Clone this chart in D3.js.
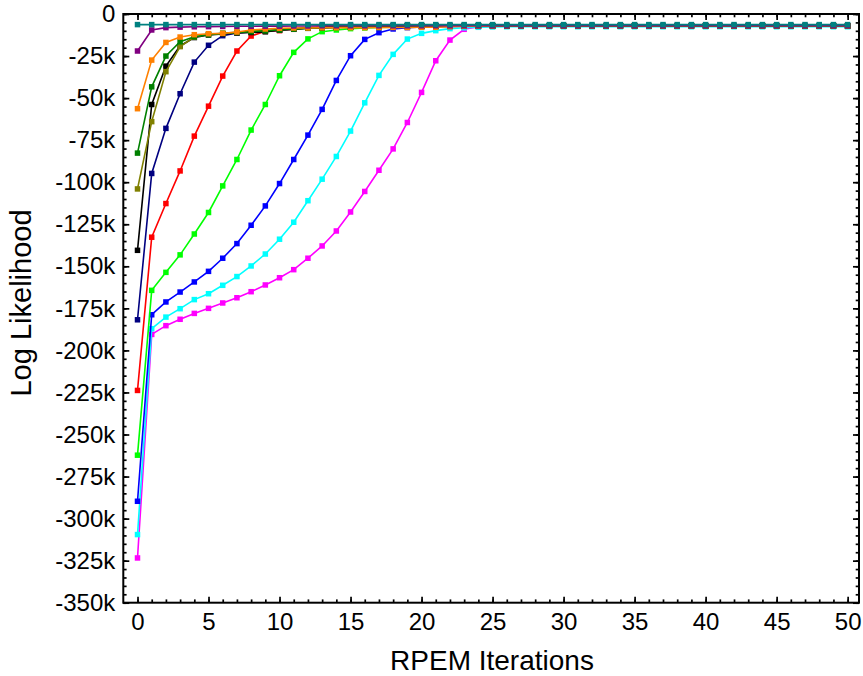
<!DOCTYPE html>
<html>
<head>
<meta charset="utf-8">
<script src="https://cdn.jsdelivr.net/npm/d3@7"></script>
<style>
  body { margin: 0; background: #fff; }
  text { font-family: "Liberation Sans", Arial, sans-serif; }
</style>
</head>
<body>
<div id="chart"></div>
<script>
// log likelihood per RPEM iteration, values in thousands (k)
const iterations = d3.range(0, 51);

const magenta = [-323.4, -190.5, -185.3, -181.5, -178.0, -175.0, -171.8, -168.7, -165.1, -161.1, -156.8, -152.0, -145.2, -137.9, -129.0, -117.7, -105.5, -92.9, -80.2, -64.5, -46.6, -27.8, -15.5, -9.1, -7.5, -7.2, -7.1, -7.0, -7.0, -7.0, -7.0, -7.0, -7.0, -7.0, -7.0, -7.0, -7.0, -7.0, -7.0, -7.0, -7.0, -7.0, -7.0, -7.0, -7.0, -7.0, -7.0, -7.0, -7.0, -7.0, -7.0];
const cyan = [-309.5, -187.1, -180.2, -175.2, -169.8, -166.3, -161.3, -156.1, -149.8, -142.7, -133.9, -123.8, -111.0, -98.2, -84.7, -69.6, -52.8, -36.5, -24.0, -14.9, -11.5, -9.9, -8.7, -8.2, -7.9, -7.7, -7.6, -7.6, -7.6, -7.6, -7.6, -7.6, -7.6, -7.6, -7.6, -7.6, -7.6, -7.6, -7.6, -7.6, -7.6, -7.6, -7.6, -7.6, -7.6, -7.6, -7.6, -7.6, -7.6, -7.6, -7.6];
const blue = [-289.7, -178.8, -171.2, -165.3, -159.3, -153.0, -145.2, -136.5, -125.6, -114.1, -100.8, -86.5, -72.0, -56.7, -39.5, -24.8, -15.1, -11.1, -8.9, -8.1, -7.7, -7.5, -7.4, -7.3, -7.2, -7.1, -7.0, -7.0, -7.0, -7.0, -7.0, -7.0, -7.0, -7.0, -7.0, -7.0, -7.0, -7.0, -7.0, -7.0, -7.0, -7.0, -7.0, -7.0, -7.0, -7.0, -7.0, -7.0, -7.0, -7.0, -7.0];
const lime = [-262.3, -164.3, -153.6, -143.2, -130.8, -118.0, -102.2, -86.5, -69.0, -53.8, -36.7, -22.8, -14.8, -10.5, -9.5, -8.7, -8.3, -8.0, -7.8, -7.6, -7.5, -7.4, -7.3, -7.2, -7.1, -7.0, -7.0, -7.0, -7.0, -7.0, -7.0, -7.0, -7.0, -7.0, -7.0, -7.0, -7.0, -7.0, -7.0, -7.0, -7.0, -7.0, -7.0, -7.0, -7.0, -7.0, -7.0, -7.0, -7.0, -7.0, -7.0];
const red = [-223.8, -132.7, -112.7, -93.3, -72.6, -54.8, -36.9, -22.0, -13.1, -10.3, -9.9, -9.1, -8.1, -7.8, -7.6, -7.5, -7.4, -7.3, -7.2, -7.1, -7.0, -7.0, -7.0, -7.0, -7.0, -7.0, -7.0, -7.0, -7.0, -7.0, -7.0, -7.0, -7.0, -7.0, -7.0, -7.0, -7.0, -7.0, -7.0, -7.0, -7.0, -7.0, -7.0, -7.0, -7.0, -7.0, -7.0, -7.0, -7.0, -7.0, -7.0];
const navy = [-181.8, -94.8, -68.0, -47.4, -28.6, -18.6, -12.9, -11.3, -10.7, -10.2, -9.6, -9.0, -8.5, -8.2, -7.9, -7.7, -7.5, -7.4, -7.3, -7.2, -7.1, -7.0, -7.0, -7.0, -7.0, -7.0, -7.0, -7.0, -7.0, -7.0, -7.0, -7.0, -7.0, -7.0, -7.0, -7.0, -7.0, -7.0, -7.0, -7.0, -7.0, -7.0, -7.0, -7.0, -7.0, -7.0, -7.0, -7.0, -7.0, -7.0, -7.0];
const black = [-140.5, -53.8, -31.0, -19.0, -14.0, -12.5, -11.8, -11.3, -11.0, -10.6, -9.5, -8.8, -8.4, -8.1, -7.9, -7.7, -7.5, -7.4, -7.3, -7.2, -7.1, -7.0, -7.0, -7.0, -7.0, -7.0, -7.0, -7.0, -7.0, -7.0, -7.0, -7.0, -7.0, -7.0, -7.0, -7.0, -7.0, -7.0, -7.0, -7.0, -7.0, -7.0, -7.0, -7.0, -7.0, -7.0, -7.0, -7.0, -7.0, -7.0, -7.0];
const olive = [-104.0, -64.0, -34.3, -19.4, -13.7, -12.0, -11.5, -11.0, -10.3, -9.8, -9.2, -8.7, -8.3, -8.0, -7.8, -7.6, -7.5, -7.4, -7.3, -7.2, -7.1, -7.0, -7.0, -7.0, -7.0, -7.0, -7.0, -7.0, -7.0, -7.0, -7.0, -7.0, -7.0, -7.0, -7.0, -7.0, -7.0, -7.0, -7.0, -7.0, -7.0, -7.0, -7.0, -7.0, -7.0, -7.0, -7.0, -7.0, -7.0, -7.0, -7.0];
const green = [-82.7, -43.3, -25.0, -16.5, -13.5, -12.3, -11.5, -10.9, -10.5, -10.0, -9.5, -9.0, -8.5, -8.2, -8.0, -7.8, -7.6, -7.5, -7.4, -7.3, -7.2, -7.1, -7.0, -7.0, -7.0, -7.0, -7.0, -7.0, -7.0, -7.0, -7.0, -7.0, -7.0, -7.0, -7.0, -7.0, -7.0, -7.0, -7.0, -7.0, -7.0, -7.0, -7.0, -7.0, -7.0, -7.0, -7.0, -7.0, -7.0, -7.0, -7.0];
const orange = [-56.3, -27.4, -16.9, -13.7, -12.3, -11.7, -11.5, -10.7, -9.5, -8.9, -8.5, -8.3, -8.3, -8.2, -8.2, -8.1, -8.1, -8.0, -8.0, -8.0, -7.9, -7.9, -7.5, -7.3, -7.2, -7.1, -7.0, -7.0, -7.0, -7.0, -7.0, -7.0, -7.0, -7.0, -7.0, -7.0, -7.0, -7.0, -7.0, -7.0, -7.0, -7.0, -7.0, -7.0, -7.0, -7.0, -7.0, -7.0, -7.0, -7.0, -7.0];
const purple = [-22.0, -9.5, -8.1, -7.8, -7.6, -7.5, -7.4, -7.3, -7.3, -7.2, -7.2, -7.1, -7.1, -7.0, -7.0, -7.0, -7.0, -7.0, -7.0, -7.0, -7.0, -7.0, -7.0, -7.0, -7.0, -7.0, -7.0, -7.0, -7.0, -7.0, -7.0, -7.0, -7.0, -7.0, -7.0, -7.0, -7.0, -7.0, -7.0, -7.0, -7.0, -7.0, -7.0, -7.0, -7.0, -7.0, -7.0, -7.0, -7.0, -7.0, -7.0];
const teal = [-6.3, -6.3, -6.3, -6.3, -6.3, -6.3, -6.3, -6.3, -6.3, -6.3, -6.3, -6.3, -6.3, -6.3, -6.3, -6.3, -6.3, -6.3, -6.3, -6.3, -6.3, -6.3, -6.3, -6.3, -6.3, -6.3, -6.3, -6.3, -6.3, -6.3, -6.3, -6.3, -6.3, -6.3, -6.3, -6.3, -6.3, -6.3, -6.3, -6.3, -6.3, -6.3, -6.3, -6.3, -6.3, -6.3, -6.3, -6.3, -6.3, -6.3, -6.3];

// drawing order: first is at the bottom
const seriesList = [magenta, cyan, blue, lime, red, navy, black, olive, green, orange, purple, teal];
const seriesColors = ["#ff00ff", "#00ffff", "#0000ff", "#00ff00", "#ff0000", "#000080", "#000000", "#808000", "#008000", "#ff8000", "#800080", "#008080"];

const xMajorTicks = d3.range(0, 51, 5);
const xMinorTicks = d3.range(0, 51, 1);
const yMajorTicks = d3.range(-350, 1, 25);
const yMinorTicks = d3.range(-350, 1, 5);

const width = 863,
  height = 676;
const mLeft = 123.3, mRight = 859, mTop = 14, mBottom = 602.7;

const svg = d3.select("#chart")
  .append("svg")
  .attr("width", width)
  .attr("height", height);

const x = d3.scaleLinear().domain([-1, 50.8]).range([mLeft, mRight]);
const y = d3.scaleLinear().domain([-350, 0]).range([mBottom, mTop]);

const fmtY = d => d === 0 ? "0" : d + "k";

// helper to draw tick-only axes (ticks point inward)
function ticks(axis, pos, size, labels, pad) {
  const g = svg.append("g")
    .attr("transform", pos)
    .call(axis.tickSize(size).tickPadding(pad || 0));
  g.select(".domain").remove();
  g.selectAll("line").attr("stroke", "#000").attr("stroke-width", 1.7);
  if (!labels) g.selectAll("text").remove();
  else g.selectAll("text")
    .attr("fill", "#000")
    .style("font-size", "24px")
    .style("font-family", '"Liberation Sans", Arial, sans-serif');
  return g;
}

// bottom
ticks(d3.axisBottom(x).tickValues(xMinorTicks).tickFormat(""), `translate(0,${mBottom})`, -3.3, false);
ticks(d3.axisBottom(x).tickValues(xMajorTicks).tickFormat(d3.format("d")), `translate(0,${mBottom})`, -6, true, 10);
// top
ticks(d3.axisTop(x).tickValues(xMinorTicks).tickFormat(""), `translate(0,${mTop})`, -3.3, false);
ticks(d3.axisTop(x).tickValues(xMajorTicks).tickFormat(""), `translate(0,${mTop})`, -6, false);
// left
ticks(d3.axisLeft(y).tickValues(yMinorTicks).tickFormat(""), `translate(${mLeft},0)`, -3.3, false);
ticks(d3.axisLeft(y).tickValues(yMajorTicks).tickFormat(fmtY), `translate(${mLeft},0)`, -6, true, 8);
// right
ticks(d3.axisRight(y).tickValues(yMinorTicks).tickFormat(""), `translate(${mRight},0)`, -3.3, false);
ticks(d3.axisRight(y).tickValues(yMajorTicks).tickFormat(""), `translate(${mRight},0)`, -6, false);

// frame
svg.append("rect")
  .attr("x", mLeft)
  .attr("y", mTop)
  .attr("width", mRight - mLeft)
  .attr("height", mBottom - mTop)
  .attr("fill", "none")
  .attr("stroke", "#000")
  .attr("stroke-width", 2);

const line = d3.line()
  .x((d, i) => x(iterations[i]))
  .y(d => y(d));

const series = svg.append("g")
  .selectAll("g")
  .data(seriesList)
  .join("g");

series.append("path")
  .attr("d", line)
  .attr("fill", "none")
  .attr("stroke", (d, i) => seriesColors[i])
  .attr("stroke-width", 1.6);

series.selectAll("rect")
  .data((d, i) => d.map((v, j) => ({ it: iterations[j], v: v, c: seriesColors[i] })))
  .join("rect")
  .attr("x", d => x(d.it) - 2.75)
  .attr("y", d => y(d.v) - 2.75)
  .attr("width", 5.5)
  .attr("height", 5.5)
  .attr("fill", d => d.c);

// axis titles
svg.append("text")
  .attr("x", 492)
  .attr("y", 670)
  .attr("text-anchor", "middle")
  .style("font-size", "28px")
  .text("RPEM Iterations");

svg.append("text")
  .attr("transform", "translate(31,303) rotate(-90)")
  .attr("text-anchor", "middle")
  .style("font-size", "29px")
  .text("Log Likelihood");
</script>
</body>
</html>
